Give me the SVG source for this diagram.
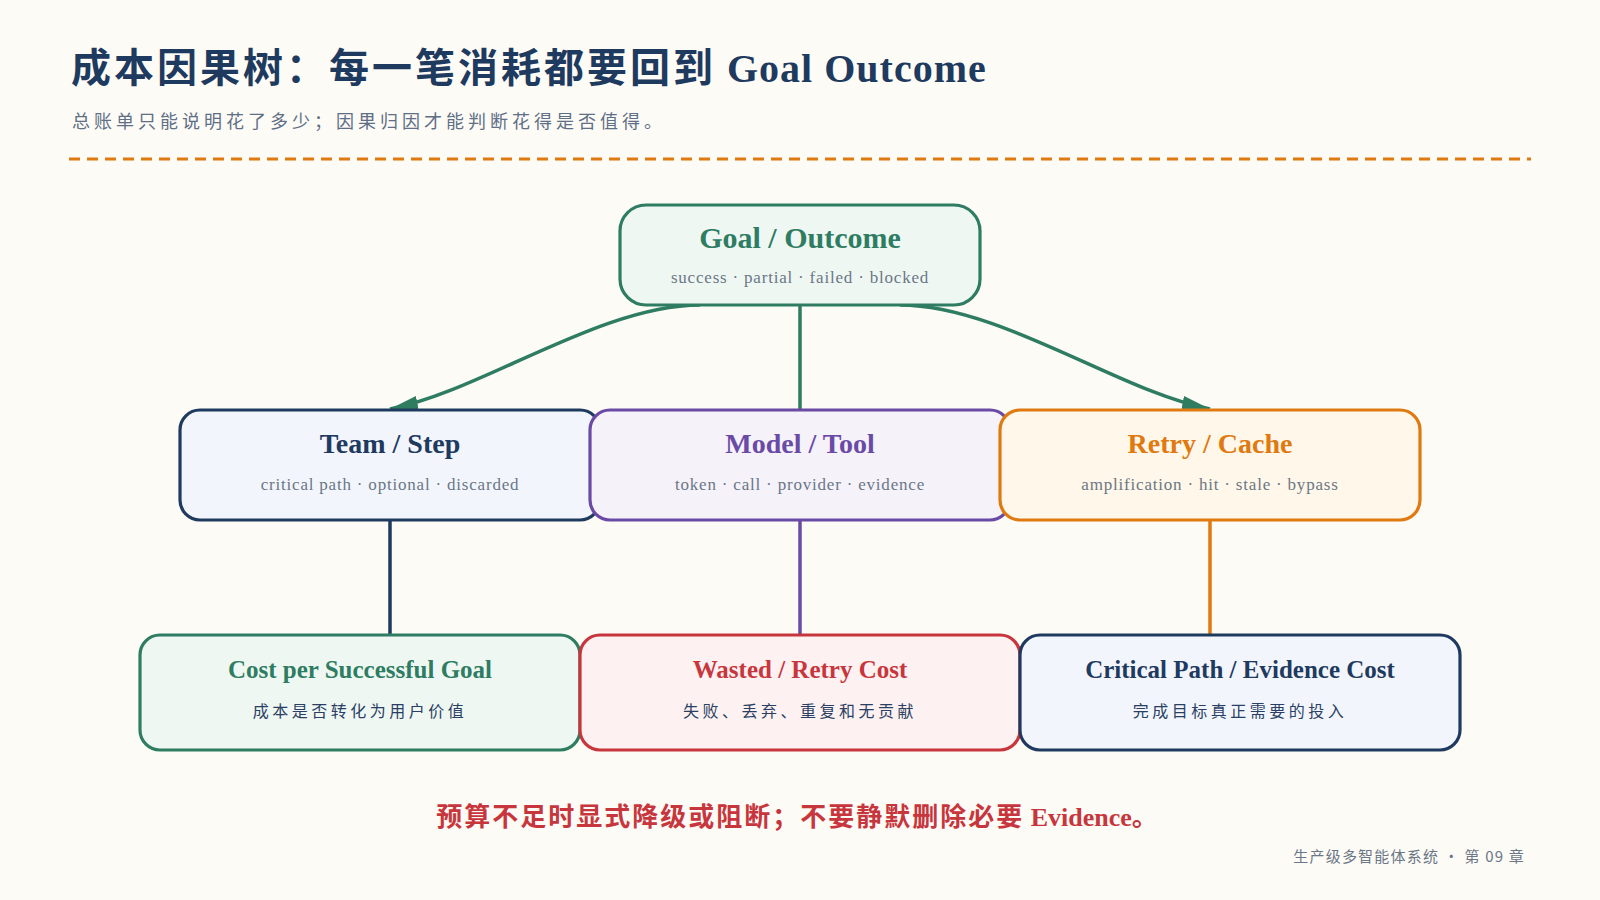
<svg xmlns="http://www.w3.org/2000/svg" width="1600" height="900" viewBox="0 0 1600 900">
<defs>
<style>
.cjk{font-family:"Noto Sans CJK SC",sans-serif;}
.ttl{font-family:"Liberation Serif","Noto Sans CJK SC",serif;font-weight:bold;text-anchor:middle;}
.sub{font-family:"Liberation Serif",serif;font-size:17px;fill:#6b7786;text-anchor:middle;letter-spacing:0.8px;}
.csub{font-family:"Noto Sans CJK SC",sans-serif;font-size:16px;fill:#2a3f63;text-anchor:middle;letter-spacing:3.5px;}
.box{stroke-width:3.2;}
.conn{fill:none;stroke-width:3.5;}
</style>
<marker id="arrG" viewBox="0 0 28 16" refX="28" refY="8" markerWidth="28" markerHeight="16" markerUnits="userSpaceOnUse" orient="auto">
<path d="M0,0 L28,8 L0,16 z" fill="#2e7d62"/>
</marker>
</defs>
<rect x="0" y="0" width="1600" height="900" fill="#fdfbf6"/>

<g id="header">
<text x="71" y="82" font-size="40" font-weight="bold" fill="#1f3a5f" font-family="'Liberation Serif','Noto Sans CJK SC',serif"><tspan class="cjk" letter-spacing="3">成本因果树：每一笔消耗都要回到</tspan><tspan letter-spacing="1"> Goal Outcome</tspan></text>
<text x="72" y="128" class="cjk" font-size="18" fill="#5f6f86" letter-spacing="4">总账单只能说明花了多少；因果归因才能判断花得是否值得。</text>
<line x1="69" y1="159" x2="1531" y2="159" stroke="#e07a10" stroke-width="3" stroke-dasharray="11 7"/>
</g>

<g id="connectors">
<path class="conn" d="M700,305 C600,305 480,392 390,409" stroke="#2e7d62" marker-end="url(#arrG)"/>
<path class="conn" d="M900,305 C1000,305 1120,392 1210,409" stroke="#2e7d62" marker-end="url(#arrG)"/>
<line class="conn" x1="800" y1="305" x2="800" y2="410" stroke="#2e7d62"/>
<line class="conn" x1="390" y1="520" x2="390" y2="635" stroke="#1f3a5f"/>
<line class="conn" x1="800" y1="520" x2="800" y2="635" stroke="#6b4aa6"/>
<line class="conn" x1="1210" y1="520" x2="1210" y2="635" stroke="#e07a10"/>
</g>

<g id="goal">
<rect class="box" x="620" y="205" width="360" height="100" rx="26" fill="#eff7f3" stroke="#2e7d62"/>
<text class="ttl" x="800" y="248" font-size="30" fill="#2e7d62">Goal / Outcome</text>
<text class="sub" x="800" y="283">success · partial · failed · blocked</text>
</g>

<g id="team">
<rect class="box" x="180" y="410" width="420" height="110" rx="20" fill="#f2f6fc" stroke="#1f3a5f"/>
<text class="ttl" x="390" y="453" font-size="28" fill="#1f3a5f">Team / Step</text>
<text class="sub" x="390" y="490">critical path · optional · discarded</text>
</g>

<g id="model">
<rect class="box" x="590" y="410" width="420" height="110" rx="20" fill="#f5f2fa" stroke="#6b4aa6"/>
<text class="ttl" x="800" y="453" font-size="28" fill="#6b4aa6">Model / Tool</text>
<text class="sub" x="800" y="490">token · call · provider · evidence</text>
</g>

<g id="retry">
<rect class="box" x="1000" y="410" width="420" height="110" rx="20" fill="#fff7e9" stroke="#e07a10"/>
<text class="ttl" x="1210" y="453" font-size="28" fill="#e07a10">Retry / Cache</text>
<text class="sub" x="1210" y="490">amplification · hit · stale · bypass</text>
</g>

<g id="cost">
<rect class="box" x="140" y="635" width="440" height="115" rx="20" fill="#eff7f3" stroke="#2e7d62"/>
<text class="ttl" x="360" y="678" font-size="25" fill="#2e7d62">Cost per Successful Goal</text>
<text class="csub" x="360" y="717">成本是否转化为用户价值</text>
</g>

<g id="wasted">
<rect class="box" x="580" y="635" width="440" height="115" rx="20" fill="#fdf1f1" stroke="#c8363d"/>
<text class="ttl" x="800" y="678" font-size="25" fill="#c8363d">Wasted / Retry Cost</text>
<text class="csub" x="800" y="717">失败、丢弃、重复和无贡献</text>
</g>

<g id="critical">
<rect class="box" x="1020" y="635" width="440" height="115" rx="20" fill="#f2f6fc" stroke="#1f3a5f"/>
<text class="ttl" x="1240" y="678" font-size="25" fill="#1f3a5f">Critical Path / Evidence Cost</text>
<text class="csub" x="1240" y="717">完成目标真正需要的投入</text>
</g>

<g id="footer">
<text x="797" y="826" text-anchor="middle" font-size="26" font-weight="bold" fill="#c8363d" font-family="'Liberation Serif','Noto Sans CJK SC',serif"><tspan class="cjk" letter-spacing="2">预算不足时显式降级或阻断；不要静默删除必要</tspan> Evidence<tspan class="cjk">。</tspan></text>
<text x="1525" y="862" text-anchor="end" class="cjk" font-size="15" fill="#6b7786" letter-spacing="1.2">生产级多智能体系统 · 第 09 章</text>
</g>
</svg>
